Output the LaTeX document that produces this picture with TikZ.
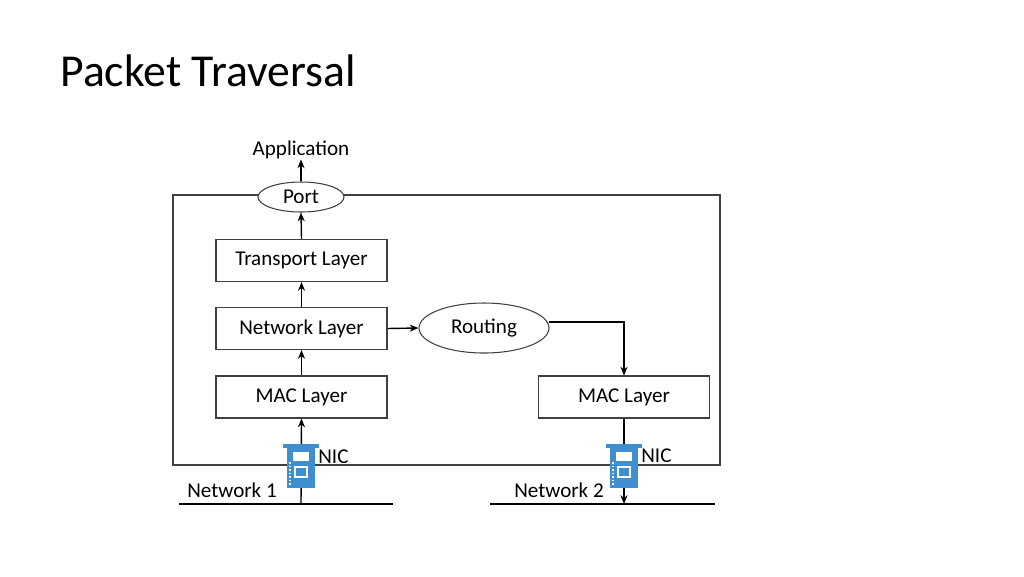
\documentclass[tikz,border=0pt]{standalone}
\usepackage{fontspec}
\setmainfont{Carlito}
\usetikzlibrary{shapes.geometric,arrows.meta}
\definecolor{nicblue}{HTML}{3E8ED0}
\begin{document}
\begin{tikzpicture}[x=0.02cm,y=-0.02cm,
  box/.style={draw=black!75,line width=0.6pt,minimum width=171*0.02cm,minimum height=42*0.02cm,font=\fontsize{12}{14}\selectfont,inner sep=0},
  ell/.style={ellipse,draw=black!75,line width=0.6pt,font=\fontsize{12}{14}\selectfont,inner sep=0},
  arr/.style={-{Stealth[length=5pt,width=4pt]},line width=0.8pt},
  lbl/.style={font=\fontsize{12}{14}\selectfont,inner sep=0}]
\useasboundingbox (0,0) rectangle (1024,576);
\node[anchor=base west,font=\fontsize{26}{30}\selectfont,inner sep=0] (title) at (60,86) {Packet Traversal};
\draw[black!75,line width=0.6pt] (173,195) rectangle (720,465);
\node[ell,fill=white,minimum width=86*0.02cm,minimum height=30*0.02cm] (port) at (301,197) {Port};
\node[lbl] (app) at (301,150) {Application};
\node[box] (tl) at (301.5,260.5) {Transport Layer};
\node[box] (nl) at (301.5,328.5) {Network Layer};
\node[box] (ml) at (301.5,397) {MAC Layer};
\node[ell,minimum width=130*0.02cm,minimum height=50*0.02cm] (rt) at (484,328) {Routing};
\node[box] (mr) at (624,397) {MAC Layer};
\coordinate (n1l) at (179,504); \coordinate (n1r) at (393,504);
\coordinate (n2l) at (490,504); \coordinate (n2r) at (715,504);
\coordinate (n1) at (301,504); \coordinate (n2) at (624,504);
\draw[line width=1pt] (n1l) -- (n1r);
\draw[line width=1pt] (n2l) -- (n2r);
\node[lbl] (lab1) at (232,490) {Network 1};
\node[lbl] (lab2) at (559,490) {Network 2};
\draw[arr] (n1) -- (ml.south);
\draw[arr] (mr.south) -- (n2);
\draw[arr] (ml.north) -- (nl.south);
\draw[arr] (nl.north) -- (tl.south);
\draw[arr] (tl.north) -- (port.south);
\draw[arr] (port.north) -- (app.south);
\draw[arr] (nl.east) -- (rt.west);
\coordinate (c) at (624,322);
\draw[arr,line width=0.6pt] (rt.east |- c) ++(-1,0) -- (c) -- (mr.north);
% NIC icons
\foreach \cx in {301,624}{
  \fill[nicblue] (\cx-14,447) rectangle (\cx+14,488);
  \fill[nicblue] (\cx-18,444) rectangle (\cx+18,448);
  \fill[white] (\cx-8,452) rectangle (\cx+8,461);
  \draw[white,line width=1.2pt] (\cx-6,467) rectangle (\cx+6,477);
  \draw[white,line width=0.8pt,dash pattern=on 1pt off 1pt] (\cx-11,462) -- (\cx-11,486);
}
\node[lbl,anchor=west] (nicl) at (318,457) {NIC};
\node[lbl,anchor=west] (nicr) at (641,456) {NIC};
\end{tikzpicture}
\end{document}
